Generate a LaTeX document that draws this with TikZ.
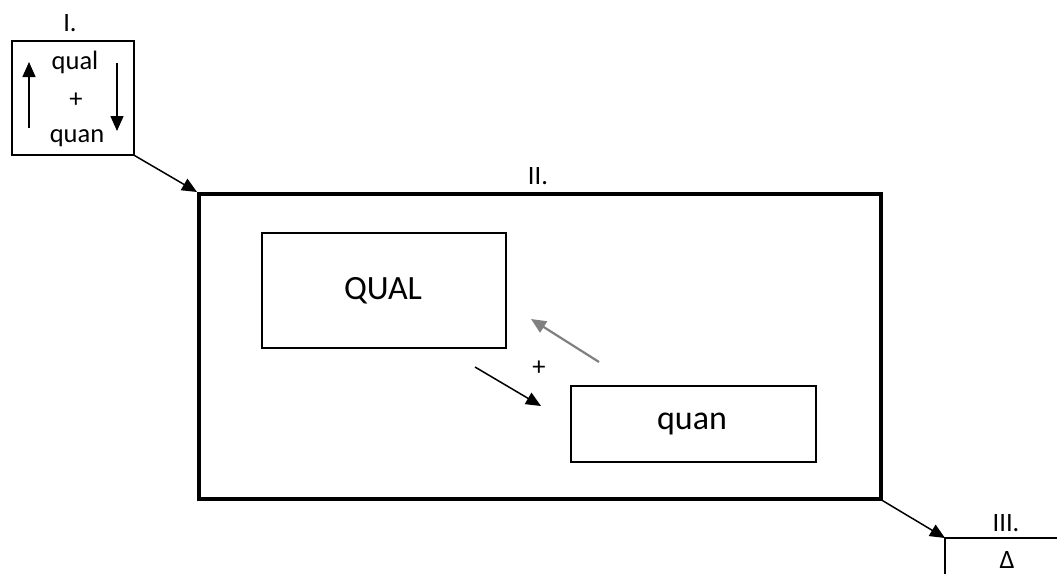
\documentclass[tikz,border=0pt]{standalone}
\usepackage{fontspec}
\setmainfont{Carlito}
\usetikzlibrary{arrows.meta}
\tikzset{
  box/.style={draw, rectangle, inner sep=0pt, anchor=north west, line width=1.5pt},
  bigbox/.style={draw, rectangle, inner sep=0pt, anchor=north west, line width=3.6pt},
  arr/.style={line width=1.5pt, -{Triangle[length=15pt,width=13pt]}},
  small/.style={font=\fontsize{26.5}{30}\selectfont, inner sep=0pt},
  large/.style={font=\fontsize{34}{38}\selectfont, inner sep=0pt},
}
\begin{document}
\begin{tikzpicture}[x=1pt,y=-1pt]
\useasboundingbox (0,0) rectangle (1057,574);
% Box I
\node[box, minimum width=122pt, minimum height=114pt] (b1) at (11,40) {};
\node[small] (l1) at (70,23) {I.};
\node[small] (t1) at (75,62) {qual};
\node[small] (t2) at (76,100) {+};
\node[small] (t3) at (77,138) {quan};
\coordinate (u1) at (29,128);
\coordinate (u2) at (29,62);
\coordinate (d1) at (117,63);
\coordinate (d2) at (117,131);
\draw[arr] (u1) -- (u2);
\draw[arr] (d1) -- (d2);
% Box II
\node[bigbox, minimum width=682pt, minimum height=305pt] (b2) at (197,192) {};
\node[small] (l2) at (538,176) {II.};
\node[box, minimum width=244pt, minimum height=115pt] (qual) at (261,232) {};
\node[large] (tq) at (383,291) {QUAL};
\node[box, minimum width=245pt, minimum height=76pt] (quan) at (570,385) {};
\node[large] (tn) at (692,424) {quan};
\node[small] (plus) at (539,368) {+};
\coordinate (g1) at (599,362);
\coordinate (g2) at (531,319);
\coordinate (k1) at (475,367);
\coordinate (k2) at (541,406);
\draw[arr, line width=2.2pt, draw=black!50, fill=black!80] (g1) -- (g2);
\draw[arr] (k1) -- (k2);
% Box III
\coordinate (c3) at (945,538);
\coordinate (c3r) at (1057,538);
\coordinate (c3b) at (945,574);
\draw[line width=1.6pt] (c3r) -- (c3) -- (c3b);
\node[small] (l3) at (1006,523) {III.};
\node[small] (delta) at (1007,560) {Δ};
% connectors
\draw[arr] (b1.south east) -- (b2.north west);
\draw[arr] (b2.south east) -- (c3);
\end{tikzpicture}
\end{document}
